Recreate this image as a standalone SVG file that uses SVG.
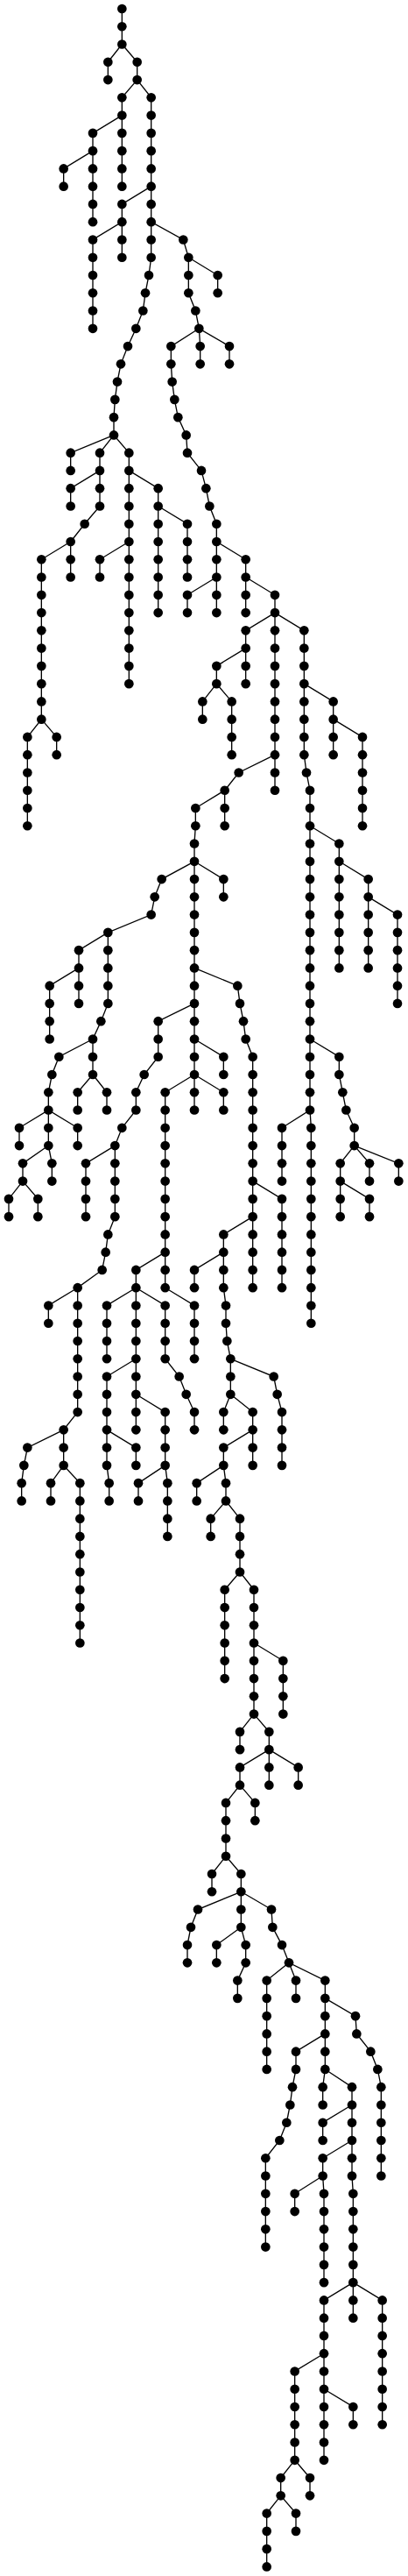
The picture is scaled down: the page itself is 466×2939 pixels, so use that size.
<svg xmlns="http://www.w3.org/2000/svg" width="466" height="2939" viewBox="0 0 466 2939">
<style>
.e path{fill:none;stroke:#000;stroke-width:4}
.n circle{fill:#000}
</style>
<rect width="466" height="2939" fill="#fff"/>
<g transform="scale(0.3333333)">
<g class="e" id="connectors">
<path d="M418 30V151.6L370 212.4V273.2"/>
<path d="M418 151.6L470 212.4V273.2L418 334V638"/>
<path d="M418 394.8L318 455.6V759.6"/>
<path d="M318 516.4L218 577.2V638"/>
<path d="M470 273.2L518 334V881.2L510 942L498 1002.8L490 1063.6L466 1124.4L438 1185.2L414 1246L402 1306.8L394 1367.6L390 1428.4V1489.2L442 1550V2340.4"/>
<path d="M518 638L418 698.8V881.2"/>
<path d="M418 759.6L318 820.4V1124.4"/>
<path d="M518 759.6L628 820.4L646 881.2V1002.8L670 1063.6L682 1124.4L686 1185.2V1246"/>
<path d="M646 881.2L746 942V1002.8"/>
<path d="M682 1124.4L586 1185.2V1246L590 1306.8L598 1367.6L610 1428.4L638 1489.2L642 1550L690 1610.8L706 1671.6L718 1732.4L742 1793.2V2097.2"/>
<path d="M682 1124.4L786 1185.2V1246"/>
<path d="M390 1489.2L242 1550V1610.8"/>
<path d="M390 1489.2L342 1550V1732.4L290 1793.2L242 1854V1975.6"/>
<path d="M342 1610.8L242 1671.6V1732.4"/>
<path d="M242 1854L142 1914.8V2462L94 2522.8V2826.8"/>
<path d="M142 2462L194 2522.8V2583.6"/>
<path d="M442 1610.8L542 1671.6V2097.2"/>
<path d="M542 1732.4L642 1793.2V1975.6"/>
<path d="M442 1854L342 1914.8V1975.6"/>
<path d="M742 1854L842 1914.8V2097.2"/>
<path d="M742 1975.6L642 2036.4V2097.2"/>
<path d="M842 1975.6L942 2036.4V2705.2"/>
<path d="M942 2097.2L842 2158V2340.4"/>
<path d="M842 2218.8L742 2279.6V2340.4L794 2401.2V2583.6"/>
<path d="M742 2340.4L694 2401.2V2462"/>
<path d="M942 2097.2L1042 2158V2583.6L1050 2644.4L1062 2705.2V3799.6L1066 3860.4V4529.2"/>
<path d="M942 2583.6L818 2644.4L770 2705.2V2826.8"/>
<path d="M770 2705.2L670 2766V2826.8L666 2887.6V3799.6"/>
<path d="M1042 2340.4L1142 2401.2V2583.6"/>
<path d="M1142 2462L1242 2522.8V2826.8"/>
<path d="M1062 2826.8L1162 2887.6V3313.2"/>
<path d="M1162 2948.4L1262 3009.2V3313.2"/>
<path d="M1262 3070L1362 3130.8V3434.8"/>
<path d="M666 2948.4L766 3009.2V3070"/>
<path d="M666 2948.4L554 3009.2L530 3070L518 3130.8L370 3191.6V3434.8L346 3495.6L318 3556.4V3678L266 3738.8V3799.6"/>
<path d="M318 3678L366 3738.8V3799.6"/>
<path d="M318 3556.4L202 3617.2L178 3678L166 3738.8V3921.2L178 3982V4042.8"/>
<path d="M166 3799.6L66 3860.4V3921.2"/>
<path d="M166 3799.6L266 3860.4V3921.2"/>
<path d="M166 3921.2L78 3982V4042.8L30 4103.6V4164.4"/>
<path d="M78 4042.8L130 4103.6V4164.4"/>
<path d="M370 3191.6L270 3252.4V3434.8"/>
<path d="M270 3313.2L170 3374V3556.4"/>
<path d="M666 3313.2L814 3374L822 3434.8L834 3495.6L842 3556.4L866 3617.2V4407.6"/>
<path d="M866 4042.8L966 4103.6V4407.6"/>
<path d="M866 4164.4L766 4225.2V4407.6L774 4468.4V4529.2L778 4590L790 4650.8V4772.4L866 4833.2V5015.6"/>
<path d="M766 4286L666 4346.8V4407.6"/>
<path d="M790 4650.8L938 4711.6L950 4772.4L966 4833.2V5015.6"/>
<path d="M790 4772.4L766 4833.2V4894"/>
<path d="M866 4894L766 4954.8V5015.6L774 5076.4V5137.2L822 5198V5380.4L870 5441.2V5866.8L922 5927.6V6110"/>
<path d="M766 5015.6L674 5076.4V5137.2"/>
<path d="M774 5137.2L722 5198V5258.8"/>
<path d="M822 5380.4L770 5441.2V5745.2"/>
<path d="M870 5623.6L970 5684.4V5866.8"/>
<path d="M870 5866.8L822 5927.6V5988.4"/>
<path d="M922 5988.4L1022 6049.2V6110"/>
<path d="M922 5988.4L822 6049.2V6110L774 6170.8V6353.2L826 6414V6596.4L842 6657.2V6718L814 6778.8V6839.6"/>
<path d="M822 6110L874 6170.8V6231.6"/>
<path d="M774 6353.2L726 6414V6474.8"/>
<path d="M826 6474.8L678 6535.6L654 6596.4L642 6657.2V6718"/>
<path d="M826 6596.4L742 6657.2V6718"/>
<path d="M826 6474.8L930 6535.6L934 6596.4L966 6657.2L990 6718L1114 6778.8V7082.8L1206 7143.6V7447.6L1210 7508.4V7934"/>
<path d="M990 6718L914 6778.8V7082.8"/>
<path d="M990 6718L1014 6778.8V6839.6"/>
<path d="M1114 6839.6L1218 6900.4L1222 6961.2L1270 7022L1294 7082.8L1306 7143.6V7447.6"/>
<path d="M1114 6961.2L1014 7022V7082.8L1002 7143.6L994 7204.4L982 7265.2L958 7326L910 7386.8V7690.8"/>
<path d="M1114 7082.8L1106 7143.6V7204.4"/>
<path d="M1206 7204.4L1106 7265.2V7326"/>
<path d="M1206 7326L1106 7386.8V7447.6L1110 7508.4V7812.4"/>
<path d="M1106 7447.6L1010 7508.4V7569.2"/>
<path d="M1210 7812.4L1110 7873.2V8420.4"/>
<path d="M1210 7812.4L1310 7873.2V8298.8"/>
<path d="M1110 8055.6L1010 8116.4V8420.4L962 8481.2V8542L914 8602.8V8785.2"/>
<path d="M1010 8420.4L1062 8481.2V8542"/>
<path d="M962 8542L1014 8602.8V8663.6"/>
<path d="M1110 8177.2L1210 8238V8298.8"/>
<path d="M666 3434.8L542 3495.6V3617.2L494 3678L466 3738.8V3799.6L418 3860.4L394 3921.2V4164.4L370 4225.2L362 4286L350 4346.8L266 4407.6V4833.2L218 4894V5015.6L274 5076.4V5623.6"/>
<path d="M394 3921.2L294 3982V4164.4"/>
<path d="M266 4407.6L166 4468.4V4529.2"/>
<path d="M218 4894L94 4954.8L82 5015.6L74 5076.4V5137.2"/>
<path d="M218 5015.6L174 5076.4V5137.2"/>
<path d="M666 3556.4L766 3617.2V3678"/>
<path d="M666 3678L566 3738.8V4407.6L666 4468.4V4650.8"/>
<path d="M666 3678L766 3738.8V3799.6"/>
<path d="M566 4286L466 4346.8V4894"/>
<path d="M466 4407.6L366 4468.4V4650.8"/>
<path d="M466 4407.6L566 4468.4V4650.8L614 4711.6L638 4772.4L666 4833.2V4894"/>
<path d="M466 4650.8L366 4711.6V5015.6L374 5076.4V5137.2"/>
<path d="M366 4894L466 4954.8V5015.6"/>
<path d="M466 4772.4L566 4833.2V5015.6L574 5076.4V5258.8"/>
<path d="M566 5015.6L474 5076.4V5137.2"/>
<path d="M1062 3799.6L966 3860.4V4042.8"/>
<path d="M1062 3556.4L1162 3617.2V3678L1174 3738.8L1186 3799.6L1214 3860.4V3921.2L1166 3982V4164.4"/>
<path d="M1214 3921.2L1266 3982V4042.8"/>
<path d="M1214 3921.2L1366 3982V4042.8"/>
<path d="M1166 4042.8L1266 4103.6V4164.4"/>
</g>
<g class="n" id="nodes">
<g transform="translate(0,30)"><g id="n0-418"><circle cx="418" r="16"/></g></g>
<g transform="translate(0,90.8)"><g id="n1-418"><circle cx="418" r="16"/></g></g>
<g transform="translate(0,151.6)"><g id="n2-418"><circle cx="418" r="16"/></g></g>
<g transform="translate(0,212.4)"><g id="n3-370"><circle cx="370" r="16"/></g><g id="n3-470"><circle cx="470" r="16"/></g></g>
<g transform="translate(0,273.2)"><g id="n4-370"><circle cx="370" r="16"/></g><g id="n4-470"><circle cx="470" r="16"/></g></g>
<g transform="translate(0,334)"><g id="n5-418"><circle cx="418" r="16"/></g><g id="n5-518"><circle cx="518" r="16"/></g></g>
<g transform="translate(0,394.8)"><g id="n6-418"><circle cx="418" r="16"/></g><g id="n6-518"><circle cx="518" r="16"/></g></g>
<g transform="translate(0,455.6)"><g id="n7-318"><circle cx="318" r="16"/></g><g id="n7-418"><circle cx="418" r="16"/></g><g id="n7-518"><circle cx="518" r="16"/></g></g>
<g transform="translate(0,516.4)"><g id="n8-318"><circle cx="318" r="16"/></g><g id="n8-418"><circle cx="418" r="16"/></g><g id="n8-518"><circle cx="518" r="16"/></g></g>
<g transform="translate(0,577.2)"><g id="n9-218"><circle cx="218" r="16"/></g><g id="n9-318"><circle cx="318" r="16"/></g><g id="n9-418"><circle cx="418" r="16"/></g><g id="n9-518"><circle cx="518" r="16"/></g></g>
<g transform="translate(0,638)"><g id="n10-218"><circle cx="218" r="16"/></g><g id="n10-318"><circle cx="318" r="16"/></g><g id="n10-418"><circle cx="418" r="16"/></g><g id="n10-518"><circle cx="518" r="16"/></g></g>
<g transform="translate(0,698.8)"><g id="n11-318"><circle cx="318" r="16"/></g><g id="n11-418"><circle cx="418" r="16"/></g><g id="n11-518"><circle cx="518" r="16"/></g></g>
<g transform="translate(0,759.6)"><g id="n12-318"><circle cx="318" r="16"/></g><g id="n12-418"><circle cx="418" r="16"/></g><g id="n12-518"><circle cx="518" r="16"/></g></g>
<g transform="translate(0,820.4)"><g id="n13-318"><circle cx="318" r="16"/></g><g id="n13-418"><circle cx="418" r="16"/></g><g id="n13-518"><circle cx="518" r="16"/></g><g id="n13-628"><circle cx="628" r="16"/></g></g>
<g transform="translate(0,881.2)"><g id="n14-318"><circle cx="318" r="16"/></g><g id="n14-418"><circle cx="418" r="16"/></g><g id="n14-518"><circle cx="518" r="16"/></g><g id="n14-646"><circle cx="646" r="16"/></g></g>
<g transform="translate(0,942)"><g id="n15-318"><circle cx="318" r="16"/></g><g id="n15-510"><circle cx="510" r="16"/></g><g id="n15-646"><circle cx="646" r="16"/></g><g id="n15-746"><circle cx="746" r="16"/></g></g>
<g transform="translate(0,1002.8)"><g id="n16-318"><circle cx="318" r="16"/></g><g id="n16-498"><circle cx="498" r="16"/></g><g id="n16-646"><circle cx="646" r="16"/></g><g id="n16-746"><circle cx="746" r="16"/></g></g>
<g transform="translate(0,1063.6)"><g id="n17-318"><circle cx="318" r="16"/></g><g id="n17-490"><circle cx="490" r="16"/></g><g id="n17-670"><circle cx="670" r="16"/></g></g>
<g transform="translate(0,1124.4)"><g id="n18-318"><circle cx="318" r="16"/></g><g id="n18-466"><circle cx="466" r="16"/></g><g id="n18-682"><circle cx="682" r="16"/></g></g>
<g transform="translate(0,1185.2)"><g id="n19-438"><circle cx="438" r="16"/></g><g id="n19-586"><circle cx="586" r="16"/></g><g id="n19-686"><circle cx="686" r="16"/></g><g id="n19-786"><circle cx="786" r="16"/></g></g>
<g transform="translate(0,1246)"><g id="n20-414"><circle cx="414" r="16"/></g><g id="n20-586"><circle cx="586" r="16"/></g><g id="n20-686"><circle cx="686" r="16"/></g><g id="n20-786"><circle cx="786" r="16"/></g></g>
<g transform="translate(0,1306.8)"><g id="n21-402"><circle cx="402" r="16"/></g><g id="n21-590"><circle cx="590" r="16"/></g></g>
<g transform="translate(0,1367.6)"><g id="n22-394"><circle cx="394" r="16"/></g><g id="n22-598"><circle cx="598" r="16"/></g></g>
<g transform="translate(0,1428.4)"><g id="n23-390"><circle cx="390" r="16"/></g><g id="n23-610"><circle cx="610" r="16"/></g></g>
<g transform="translate(0,1489.2)"><g id="n24-390"><circle cx="390" r="16"/></g><g id="n24-638"><circle cx="638" r="16"/></g></g>
<g transform="translate(0,1550)"><g id="n25-242"><circle cx="242" r="16"/></g><g id="n25-342"><circle cx="342" r="16"/></g><g id="n25-442"><circle cx="442" r="16"/></g><g id="n25-642"><circle cx="642" r="16"/></g></g>
<g transform="translate(0,1610.8)"><g id="n26-242"><circle cx="242" r="16"/></g><g id="n26-342"><circle cx="342" r="16"/></g><g id="n26-442"><circle cx="442" r="16"/></g><g id="n26-690"><circle cx="690" r="16"/></g></g>
<g transform="translate(0,1671.6)"><g id="n27-242"><circle cx="242" r="16"/></g><g id="n27-342"><circle cx="342" r="16"/></g><g id="n27-442"><circle cx="442" r="16"/></g><g id="n27-542"><circle cx="542" r="16"/></g><g id="n27-706"><circle cx="706" r="16"/></g></g>
<g transform="translate(0,1732.4)"><g id="n28-242"><circle cx="242" r="16"/></g><g id="n28-342"><circle cx="342" r="16"/></g><g id="n28-442"><circle cx="442" r="16"/></g><g id="n28-542"><circle cx="542" r="16"/></g><g id="n28-718"><circle cx="718" r="16"/></g></g>
<g transform="translate(0,1793.2)"><g id="n29-290"><circle cx="290" r="16"/></g><g id="n29-442"><circle cx="442" r="16"/></g><g id="n29-542"><circle cx="542" r="16"/></g><g id="n29-642"><circle cx="642" r="16"/></g><g id="n29-742"><circle cx="742" r="16"/></g></g>
<g transform="translate(0,1854)"><g id="n30-242"><circle cx="242" r="16"/></g><g id="n30-442"><circle cx="442" r="16"/></g><g id="n30-542"><circle cx="542" r="16"/></g><g id="n30-642"><circle cx="642" r="16"/></g><g id="n30-742"><circle cx="742" r="16"/></g></g>
<g transform="translate(0,1914.8)"><g id="n31-142"><circle cx="142" r="16"/></g><g id="n31-242"><circle cx="242" r="16"/></g><g id="n31-342"><circle cx="342" r="16"/></g><g id="n31-442"><circle cx="442" r="16"/></g><g id="n31-542"><circle cx="542" r="16"/></g><g id="n31-642"><circle cx="642" r="16"/></g><g id="n31-742"><circle cx="742" r="16"/></g><g id="n31-842"><circle cx="842" r="16"/></g></g>
<g transform="translate(0,1975.6)"><g id="n32-142"><circle cx="142" r="16"/></g><g id="n32-242"><circle cx="242" r="16"/></g><g id="n32-342"><circle cx="342" r="16"/></g><g id="n32-442"><circle cx="442" r="16"/></g><g id="n32-542"><circle cx="542" r="16"/></g><g id="n32-642"><circle cx="642" r="16"/></g><g id="n32-742"><circle cx="742" r="16"/></g><g id="n32-842"><circle cx="842" r="16"/></g></g>
<g transform="translate(0,2036.4)"><g id="n33-142"><circle cx="142" r="16"/></g><g id="n33-442"><circle cx="442" r="16"/></g><g id="n33-542"><circle cx="542" r="16"/></g><g id="n33-642"><circle cx="642" r="16"/></g><g id="n33-742"><circle cx="742" r="16"/></g><g id="n33-842"><circle cx="842" r="16"/></g><g id="n33-942"><circle cx="942" r="16"/></g></g>
<g transform="translate(0,2097.2)"><g id="n34-142"><circle cx="142" r="16"/></g><g id="n34-442"><circle cx="442" r="16"/></g><g id="n34-542"><circle cx="542" r="16"/></g><g id="n34-642"><circle cx="642" r="16"/></g><g id="n34-742"><circle cx="742" r="16"/></g><g id="n34-842"><circle cx="842" r="16"/></g><g id="n34-942"><circle cx="942" r="16"/></g></g>
<g transform="translate(0,2158)"><g id="n35-142"><circle cx="142" r="16"/></g><g id="n35-442"><circle cx="442" r="16"/></g><g id="n35-842"><circle cx="842" r="16"/></g><g id="n35-942"><circle cx="942" r="16"/></g><g id="n35-1042"><circle cx="1042" r="16"/></g></g>
<g transform="translate(0,2218.8)"><g id="n36-142"><circle cx="142" r="16"/></g><g id="n36-442"><circle cx="442" r="16"/></g><g id="n36-842"><circle cx="842" r="16"/></g><g id="n36-942"><circle cx="942" r="16"/></g><g id="n36-1042"><circle cx="1042" r="16"/></g></g>
<g transform="translate(0,2279.6)"><g id="n37-142"><circle cx="142" r="16"/></g><g id="n37-442"><circle cx="442" r="16"/></g><g id="n37-742"><circle cx="742" r="16"/></g><g id="n37-842"><circle cx="842" r="16"/></g><g id="n37-942"><circle cx="942" r="16"/></g><g id="n37-1042"><circle cx="1042" r="16"/></g></g>
<g transform="translate(0,2340.4)"><g id="n38-142"><circle cx="142" r="16"/></g><g id="n38-442"><circle cx="442" r="16"/></g><g id="n38-742"><circle cx="742" r="16"/></g><g id="n38-842"><circle cx="842" r="16"/></g><g id="n38-942"><circle cx="942" r="16"/></g><g id="n38-1042"><circle cx="1042" r="16"/></g></g>
<g transform="translate(0,2401.2)"><g id="n39-142"><circle cx="142" r="16"/></g><g id="n39-694"><circle cx="694" r="16"/></g><g id="n39-794"><circle cx="794" r="16"/></g><g id="n39-942"><circle cx="942" r="16"/></g><g id="n39-1042"><circle cx="1042" r="16"/></g><g id="n39-1142"><circle cx="1142" r="16"/></g></g>
<g transform="translate(0,2462)"><g id="n40-142"><circle cx="142" r="16"/></g><g id="n40-694"><circle cx="694" r="16"/></g><g id="n40-794"><circle cx="794" r="16"/></g><g id="n40-942"><circle cx="942" r="16"/></g><g id="n40-1042"><circle cx="1042" r="16"/></g><g id="n40-1142"><circle cx="1142" r="16"/></g></g>
<g transform="translate(0,2522.8)"><g id="n41-94"><circle cx="94" r="16"/></g><g id="n41-194"><circle cx="194" r="16"/></g><g id="n41-794"><circle cx="794" r="16"/></g><g id="n41-942"><circle cx="942" r="16"/></g><g id="n41-1042"><circle cx="1042" r="16"/></g><g id="n41-1142"><circle cx="1142" r="16"/></g><g id="n41-1242"><circle cx="1242" r="16"/></g></g>
<g transform="translate(0,2583.6)"><g id="n42-94"><circle cx="94" r="16"/></g><g id="n42-194"><circle cx="194" r="16"/></g><g id="n42-794"><circle cx="794" r="16"/></g><g id="n42-942"><circle cx="942" r="16"/></g><g id="n42-1042"><circle cx="1042" r="16"/></g><g id="n42-1142"><circle cx="1142" r="16"/></g><g id="n42-1242"><circle cx="1242" r="16"/></g></g>
<g transform="translate(0,2644.4)"><g id="n43-94"><circle cx="94" r="16"/></g><g id="n43-818"><circle cx="818" r="16"/></g><g id="n43-942"><circle cx="942" r="16"/></g><g id="n43-1050"><circle cx="1050" r="16"/></g><g id="n43-1242"><circle cx="1242" r="16"/></g></g>
<g transform="translate(0,2705.2)"><g id="n44-94"><circle cx="94" r="16"/></g><g id="n44-770"><circle cx="770" r="16"/></g><g id="n44-942"><circle cx="942" r="16"/></g><g id="n44-1062"><circle cx="1062" r="16"/></g><g id="n44-1242"><circle cx="1242" r="16"/></g></g>
<g transform="translate(0,2766)"><g id="n45-94"><circle cx="94" r="16"/></g><g id="n45-670"><circle cx="670" r="16"/></g><g id="n45-770"><circle cx="770" r="16"/></g><g id="n45-1062"><circle cx="1062" r="16"/></g><g id="n45-1242"><circle cx="1242" r="16"/></g></g>
<g transform="translate(0,2826.8)"><g id="n46-94"><circle cx="94" r="16"/></g><g id="n46-670"><circle cx="670" r="16"/></g><g id="n46-770"><circle cx="770" r="16"/></g><g id="n46-1062"><circle cx="1062" r="16"/></g><g id="n46-1242"><circle cx="1242" r="16"/></g></g>
<g transform="translate(0,2887.6)"><g id="n47-666"><circle cx="666" r="16"/></g><g id="n47-1062"><circle cx="1062" r="16"/></g><g id="n47-1162"><circle cx="1162" r="16"/></g></g>
<g transform="translate(0,2948.4)"><g id="n48-666"><circle cx="666" r="16"/></g><g id="n48-1062"><circle cx="1062" r="16"/></g><g id="n48-1162"><circle cx="1162" r="16"/></g></g>
<g transform="translate(0,3009.2)"><g id="n49-554"><circle cx="554" r="16"/></g><g id="n49-666"><circle cx="666" r="16"/></g><g id="n49-766"><circle cx="766" r="16"/></g><g id="n49-1062"><circle cx="1062" r="16"/></g><g id="n49-1162"><circle cx="1162" r="16"/></g><g id="n49-1262"><circle cx="1262" r="16"/></g></g>
<g transform="translate(0,3070)"><g id="n50-530"><circle cx="530" r="16"/></g><g id="n50-666"><circle cx="666" r="16"/></g><g id="n50-766"><circle cx="766" r="16"/></g><g id="n50-1062"><circle cx="1062" r="16"/></g><g id="n50-1162"><circle cx="1162" r="16"/></g><g id="n50-1262"><circle cx="1262" r="16"/></g></g>
<g transform="translate(0,3130.8)"><g id="n51-518"><circle cx="518" r="16"/></g><g id="n51-666"><circle cx="666" r="16"/></g><g id="n51-1062"><circle cx="1062" r="16"/></g><g id="n51-1162"><circle cx="1162" r="16"/></g><g id="n51-1262"><circle cx="1262" r="16"/></g><g id="n51-1362"><circle cx="1362" r="16"/></g></g>
<g transform="translate(0,3191.6)"><g id="n52-370"><circle cx="370" r="16"/></g><g id="n52-666"><circle cx="666" r="16"/></g><g id="n52-1062"><circle cx="1062" r="16"/></g><g id="n52-1162"><circle cx="1162" r="16"/></g><g id="n52-1262"><circle cx="1262" r="16"/></g><g id="n52-1362"><circle cx="1362" r="16"/></g></g>
<g transform="translate(0,3252.4)"><g id="n53-270"><circle cx="270" r="16"/></g><g id="n53-370"><circle cx="370" r="16"/></g><g id="n53-666"><circle cx="666" r="16"/></g><g id="n53-1062"><circle cx="1062" r="16"/></g><g id="n53-1162"><circle cx="1162" r="16"/></g><g id="n53-1262"><circle cx="1262" r="16"/></g><g id="n53-1362"><circle cx="1362" r="16"/></g></g>
<g transform="translate(0,3313.2)"><g id="n54-270"><circle cx="270" r="16"/></g><g id="n54-370"><circle cx="370" r="16"/></g><g id="n54-666"><circle cx="666" r="16"/></g><g id="n54-1062"><circle cx="1062" r="16"/></g><g id="n54-1162"><circle cx="1162" r="16"/></g><g id="n54-1262"><circle cx="1262" r="16"/></g><g id="n54-1362"><circle cx="1362" r="16"/></g></g>
<g transform="translate(0,3374)"><g id="n55-170"><circle cx="170" r="16"/></g><g id="n55-270"><circle cx="270" r="16"/></g><g id="n55-370"><circle cx="370" r="16"/></g><g id="n55-666"><circle cx="666" r="16"/></g><g id="n55-814"><circle cx="814" r="16"/></g><g id="n55-1062"><circle cx="1062" r="16"/></g><g id="n55-1362"><circle cx="1362" r="16"/></g></g>
<g transform="translate(0,3434.8)"><g id="n56-170"><circle cx="170" r="16"/></g><g id="n56-270"><circle cx="270" r="16"/></g><g id="n56-370"><circle cx="370" r="16"/></g><g id="n56-666"><circle cx="666" r="16"/></g><g id="n56-822"><circle cx="822" r="16"/></g><g id="n56-1062"><circle cx="1062" r="16"/></g><g id="n56-1362"><circle cx="1362" r="16"/></g></g>
<g transform="translate(0,3495.6)"><g id="n57-170"><circle cx="170" r="16"/></g><g id="n57-346"><circle cx="346" r="16"/></g><g id="n57-542"><circle cx="542" r="16"/></g><g id="n57-666"><circle cx="666" r="16"/></g><g id="n57-834"><circle cx="834" r="16"/></g><g id="n57-1062"><circle cx="1062" r="16"/></g></g>
<g transform="translate(0,3556.4)"><g id="n58-170"><circle cx="170" r="16"/></g><g id="n58-318"><circle cx="318" r="16"/></g><g id="n58-542"><circle cx="542" r="16"/></g><g id="n58-666"><circle cx="666" r="16"/></g><g id="n58-842"><circle cx="842" r="16"/></g><g id="n58-1062"><circle cx="1062" r="16"/></g></g>
<g transform="translate(0,3617.2)"><g id="n59-202"><circle cx="202" r="16"/></g><g id="n59-318"><circle cx="318" r="16"/></g><g id="n59-542"><circle cx="542" r="16"/></g><g id="n59-666"><circle cx="666" r="16"/></g><g id="n59-766"><circle cx="766" r="16"/></g><g id="n59-866"><circle cx="866" r="16"/></g><g id="n59-1062"><circle cx="1062" r="16"/></g><g id="n59-1162"><circle cx="1162" r="16"/></g></g>
<g transform="translate(0,3678)"><g id="n60-178"><circle cx="178" r="16"/></g><g id="n60-318"><circle cx="318" r="16"/></g><g id="n60-494"><circle cx="494" r="16"/></g><g id="n60-666"><circle cx="666" r="16"/></g><g id="n60-766"><circle cx="766" r="16"/></g><g id="n60-866"><circle cx="866" r="16"/></g><g id="n60-1062"><circle cx="1062" r="16"/></g><g id="n60-1162"><circle cx="1162" r="16"/></g></g>
<g transform="translate(0,3738.8)"><g id="n61-166"><circle cx="166" r="16"/></g><g id="n61-266"><circle cx="266" r="16"/></g><g id="n61-366"><circle cx="366" r="16"/></g><g id="n61-466"><circle cx="466" r="16"/></g><g id="n61-566"><circle cx="566" r="16"/></g><g id="n61-666"><circle cx="666" r="16"/></g><g id="n61-766"><circle cx="766" r="16"/></g><g id="n61-866"><circle cx="866" r="16"/></g><g id="n61-1062"><circle cx="1062" r="16"/></g><g id="n61-1174"><circle cx="1174" r="16"/></g></g>
<g transform="translate(0,3799.6)"><g id="n62-166"><circle cx="166" r="16"/></g><g id="n62-266"><circle cx="266" r="16"/></g><g id="n62-366"><circle cx="366" r="16"/></g><g id="n62-466"><circle cx="466" r="16"/></g><g id="n62-566"><circle cx="566" r="16"/></g><g id="n62-666"><circle cx="666" r="16"/></g><g id="n62-766"><circle cx="766" r="16"/></g><g id="n62-866"><circle cx="866" r="16"/></g><g id="n62-1062"><circle cx="1062" r="16"/></g><g id="n62-1186"><circle cx="1186" r="16"/></g></g>
<g transform="translate(0,3860.4)"><g id="n63-66"><circle cx="66" r="16"/></g><g id="n63-166"><circle cx="166" r="16"/></g><g id="n63-266"><circle cx="266" r="16"/></g><g id="n63-418"><circle cx="418" r="16"/></g><g id="n63-566"><circle cx="566" r="16"/></g><g id="n63-866"><circle cx="866" r="16"/></g><g id="n63-966"><circle cx="966" r="16"/></g><g id="n63-1066"><circle cx="1066" r="16"/></g><g id="n63-1214"><circle cx="1214" r="16"/></g></g>
<g transform="translate(0,3921.2)"><g id="n64-66"><circle cx="66" r="16"/></g><g id="n64-166"><circle cx="166" r="16"/></g><g id="n64-266"><circle cx="266" r="16"/></g><g id="n64-394"><circle cx="394" r="16"/></g><g id="n64-566"><circle cx="566" r="16"/></g><g id="n64-866"><circle cx="866" r="16"/></g><g id="n64-966"><circle cx="966" r="16"/></g><g id="n64-1066"><circle cx="1066" r="16"/></g><g id="n64-1214"><circle cx="1214" r="16"/></g></g>
<g transform="translate(0,3982)"><g id="n65-78"><circle cx="78" r="16"/></g><g id="n65-178"><circle cx="178" r="16"/></g><g id="n65-294"><circle cx="294" r="16"/></g><g id="n65-394"><circle cx="394" r="16"/></g><g id="n65-566"><circle cx="566" r="16"/></g><g id="n65-866"><circle cx="866" r="16"/></g><g id="n65-966"><circle cx="966" r="16"/></g><g id="n65-1066"><circle cx="1066" r="16"/></g><g id="n65-1166"><circle cx="1166" r="16"/></g><g id="n65-1266"><circle cx="1266" r="16"/></g><g id="n65-1366"><circle cx="1366" r="16"/></g></g>
<g transform="translate(0,4042.8)"><g id="n66-78"><circle cx="78" r="16"/></g><g id="n66-178"><circle cx="178" r="16"/></g><g id="n66-294"><circle cx="294" r="16"/></g><g id="n66-394"><circle cx="394" r="16"/></g><g id="n66-566"><circle cx="566" r="16"/></g><g id="n66-866"><circle cx="866" r="16"/></g><g id="n66-966"><circle cx="966" r="16"/></g><g id="n66-1066"><circle cx="1066" r="16"/></g><g id="n66-1166"><circle cx="1166" r="16"/></g><g id="n66-1266"><circle cx="1266" r="16"/></g><g id="n66-1366"><circle cx="1366" r="16"/></g></g>
<g transform="translate(0,4103.6)"><g id="n67-30"><circle cx="30" r="16"/></g><g id="n67-130"><circle cx="130" r="16"/></g><g id="n67-294"><circle cx="294" r="16"/></g><g id="n67-394"><circle cx="394" r="16"/></g><g id="n67-566"><circle cx="566" r="16"/></g><g id="n67-866"><circle cx="866" r="16"/></g><g id="n67-966"><circle cx="966" r="16"/></g><g id="n67-1066"><circle cx="1066" r="16"/></g><g id="n67-1166"><circle cx="1166" r="16"/></g><g id="n67-1266"><circle cx="1266" r="16"/></g></g>
<g transform="translate(0,4164.4)"><g id="n68-30"><circle cx="30" r="16"/></g><g id="n68-130"><circle cx="130" r="16"/></g><g id="n68-294"><circle cx="294" r="16"/></g><g id="n68-394"><circle cx="394" r="16"/></g><g id="n68-566"><circle cx="566" r="16"/></g><g id="n68-866"><circle cx="866" r="16"/></g><g id="n68-966"><circle cx="966" r="16"/></g><g id="n68-1066"><circle cx="1066" r="16"/></g><g id="n68-1166"><circle cx="1166" r="16"/></g><g id="n68-1266"><circle cx="1266" r="16"/></g></g>
<g transform="translate(0,4225.2)"><g id="n69-370"><circle cx="370" r="16"/></g><g id="n69-566"><circle cx="566" r="16"/></g><g id="n69-766"><circle cx="766" r="16"/></g><g id="n69-866"><circle cx="866" r="16"/></g><g id="n69-966"><circle cx="966" r="16"/></g><g id="n69-1066"><circle cx="1066" r="16"/></g></g>
<g transform="translate(0,4286)"><g id="n70-362"><circle cx="362" r="16"/></g><g id="n70-566"><circle cx="566" r="16"/></g><g id="n70-766"><circle cx="766" r="16"/></g><g id="n70-866"><circle cx="866" r="16"/></g><g id="n70-966"><circle cx="966" r="16"/></g><g id="n70-1066"><circle cx="1066" r="16"/></g></g>
<g transform="translate(0,4346.8)"><g id="n71-350"><circle cx="350" r="16"/></g><g id="n71-466"><circle cx="466" r="16"/></g><g id="n71-566"><circle cx="566" r="16"/></g><g id="n71-666"><circle cx="666" r="16"/></g><g id="n71-766"><circle cx="766" r="16"/></g><g id="n71-866"><circle cx="866" r="16"/></g><g id="n71-966"><circle cx="966" r="16"/></g><g id="n71-1066"><circle cx="1066" r="16"/></g></g>
<g transform="translate(0,4407.6)"><g id="n72-266"><circle cx="266" r="16"/></g><g id="n72-466"><circle cx="466" r="16"/></g><g id="n72-566"><circle cx="566" r="16"/></g><g id="n72-666"><circle cx="666" r="16"/></g><g id="n72-766"><circle cx="766" r="16"/></g><g id="n72-866"><circle cx="866" r="16"/></g><g id="n72-966"><circle cx="966" r="16"/></g><g id="n72-1066"><circle cx="1066" r="16"/></g></g>
<g transform="translate(0,4468.4)"><g id="n73-166"><circle cx="166" r="16"/></g><g id="n73-266"><circle cx="266" r="16"/></g><g id="n73-366"><circle cx="366" r="16"/></g><g id="n73-466"><circle cx="466" r="16"/></g><g id="n73-566"><circle cx="566" r="16"/></g><g id="n73-666"><circle cx="666" r="16"/></g><g id="n73-774"><circle cx="774" r="16"/></g><g id="n73-1066"><circle cx="1066" r="16"/></g></g>
<g transform="translate(0,4529.2)"><g id="n74-166"><circle cx="166" r="16"/></g><g id="n74-266"><circle cx="266" r="16"/></g><g id="n74-366"><circle cx="366" r="16"/></g><g id="n74-466"><circle cx="466" r="16"/></g><g id="n74-566"><circle cx="566" r="16"/></g><g id="n74-666"><circle cx="666" r="16"/></g><g id="n74-774"><circle cx="774" r="16"/></g><g id="n74-1066"><circle cx="1066" r="16"/></g></g>
<g transform="translate(0,4590)"><g id="n75-266"><circle cx="266" r="16"/></g><g id="n75-366"><circle cx="366" r="16"/></g><g id="n75-466"><circle cx="466" r="16"/></g><g id="n75-566"><circle cx="566" r="16"/></g><g id="n75-666"><circle cx="666" r="16"/></g><g id="n75-778"><circle cx="778" r="16"/></g></g>
<g transform="translate(0,4650.8)"><g id="n76-266"><circle cx="266" r="16"/></g><g id="n76-366"><circle cx="366" r="16"/></g><g id="n76-466"><circle cx="466" r="16"/></g><g id="n76-566"><circle cx="566" r="16"/></g><g id="n76-666"><circle cx="666" r="16"/></g><g id="n76-790"><circle cx="790" r="16"/></g></g>
<g transform="translate(0,4711.6)"><g id="n77-266"><circle cx="266" r="16"/></g><g id="n77-366"><circle cx="366" r="16"/></g><g id="n77-466"><circle cx="466" r="16"/></g><g id="n77-614"><circle cx="614" r="16"/></g><g id="n77-790"><circle cx="790" r="16"/></g><g id="n77-938"><circle cx="938" r="16"/></g></g>
<g transform="translate(0,4772.4)"><g id="n78-266"><circle cx="266" r="16"/></g><g id="n78-366"><circle cx="366" r="16"/></g><g id="n78-466"><circle cx="466" r="16"/></g><g id="n78-638"><circle cx="638" r="16"/></g><g id="n78-790"><circle cx="790" r="16"/></g><g id="n78-950"><circle cx="950" r="16"/></g></g>
<g transform="translate(0,4833.2)"><g id="n79-266"><circle cx="266" r="16"/></g><g id="n79-366"><circle cx="366" r="16"/></g><g id="n79-466"><circle cx="466" r="16"/></g><g id="n79-566"><circle cx="566" r="16"/></g><g id="n79-666"><circle cx="666" r="16"/></g><g id="n79-766"><circle cx="766" r="16"/></g><g id="n79-866"><circle cx="866" r="16"/></g><g id="n79-966"><circle cx="966" r="16"/></g></g>
<g transform="translate(0,4894)"><g id="n80-218"><circle cx="218" r="16"/></g><g id="n80-366"><circle cx="366" r="16"/></g><g id="n80-466"><circle cx="466" r="16"/></g><g id="n80-566"><circle cx="566" r="16"/></g><g id="n80-666"><circle cx="666" r="16"/></g><g id="n80-766"><circle cx="766" r="16"/></g><g id="n80-866"><circle cx="866" r="16"/></g><g id="n80-966"><circle cx="966" r="16"/></g></g>
<g transform="translate(0,4954.8)"><g id="n81-94"><circle cx="94" r="16"/></g><g id="n81-218"><circle cx="218" r="16"/></g><g id="n81-366"><circle cx="366" r="16"/></g><g id="n81-466"><circle cx="466" r="16"/></g><g id="n81-566"><circle cx="566" r="16"/></g><g id="n81-766"><circle cx="766" r="16"/></g><g id="n81-866"><circle cx="866" r="16"/></g><g id="n81-966"><circle cx="966" r="16"/></g></g>
<g transform="translate(0,5015.6)"><g id="n82-82"><circle cx="82" r="16"/></g><g id="n82-218"><circle cx="218" r="16"/></g><g id="n82-366"><circle cx="366" r="16"/></g><g id="n82-466"><circle cx="466" r="16"/></g><g id="n82-566"><circle cx="566" r="16"/></g><g id="n82-766"><circle cx="766" r="16"/></g><g id="n82-866"><circle cx="866" r="16"/></g><g id="n82-966"><circle cx="966" r="16"/></g></g>
<g transform="translate(0,5076.4)"><g id="n83-74"><circle cx="74" r="16"/></g><g id="n83-174"><circle cx="174" r="16"/></g><g id="n83-274"><circle cx="274" r="16"/></g><g id="n83-374"><circle cx="374" r="16"/></g><g id="n83-474"><circle cx="474" r="16"/></g><g id="n83-574"><circle cx="574" r="16"/></g><g id="n83-674"><circle cx="674" r="16"/></g><g id="n83-774"><circle cx="774" r="16"/></g></g>
<g transform="translate(0,5137.2)"><g id="n84-74"><circle cx="74" r="16"/></g><g id="n84-174"><circle cx="174" r="16"/></g><g id="n84-274"><circle cx="274" r="16"/></g><g id="n84-374"><circle cx="374" r="16"/></g><g id="n84-474"><circle cx="474" r="16"/></g><g id="n84-574"><circle cx="574" r="16"/></g><g id="n84-674"><circle cx="674" r="16"/></g><g id="n84-774"><circle cx="774" r="16"/></g></g>
<g transform="translate(0,5198)"><g id="n85-274"><circle cx="274" r="16"/></g><g id="n85-574"><circle cx="574" r="16"/></g><g id="n85-722"><circle cx="722" r="16"/></g><g id="n85-822"><circle cx="822" r="16"/></g></g>
<g transform="translate(0,5258.8)"><g id="n86-274"><circle cx="274" r="16"/></g><g id="n86-574"><circle cx="574" r="16"/></g><g id="n86-722"><circle cx="722" r="16"/></g><g id="n86-822"><circle cx="822" r="16"/></g></g>
<g transform="translate(0,5319.6)"><g id="n87-274"><circle cx="274" r="16"/></g><g id="n87-822"><circle cx="822" r="16"/></g></g>
<g transform="translate(0,5380.4)"><g id="n88-274"><circle cx="274" r="16"/></g><g id="n88-822"><circle cx="822" r="16"/></g></g>
<g transform="translate(0,5441.2)"><g id="n89-274"><circle cx="274" r="16"/></g><g id="n89-770"><circle cx="770" r="16"/></g><g id="n89-870"><circle cx="870" r="16"/></g></g>
<g transform="translate(0,5502)"><g id="n90-274"><circle cx="274" r="16"/></g><g id="n90-770"><circle cx="770" r="16"/></g><g id="n90-870"><circle cx="870" r="16"/></g></g>
<g transform="translate(0,5562.8)"><g id="n91-274"><circle cx="274" r="16"/></g><g id="n91-770"><circle cx="770" r="16"/></g><g id="n91-870"><circle cx="870" r="16"/></g></g>
<g transform="translate(0,5623.6)"><g id="n92-274"><circle cx="274" r="16"/></g><g id="n92-770"><circle cx="770" r="16"/></g><g id="n92-870"><circle cx="870" r="16"/></g></g>
<g transform="translate(0,5684.4)"><g id="n93-770"><circle cx="770" r="16"/></g><g id="n93-870"><circle cx="870" r="16"/></g><g id="n93-970"><circle cx="970" r="16"/></g></g>
<g transform="translate(0,5745.2)"><g id="n94-770"><circle cx="770" r="16"/></g><g id="n94-870"><circle cx="870" r="16"/></g><g id="n94-970"><circle cx="970" r="16"/></g></g>
<g transform="translate(0,5806)"><g id="n95-870"><circle cx="870" r="16"/></g><g id="n95-970"><circle cx="970" r="16"/></g></g>
<g transform="translate(0,5866.8)"><g id="n96-870"><circle cx="870" r="16"/></g><g id="n96-970"><circle cx="970" r="16"/></g></g>
<g transform="translate(0,5927.6)"><g id="n97-822"><circle cx="822" r="16"/></g><g id="n97-922"><circle cx="922" r="16"/></g></g>
<g transform="translate(0,5988.4)"><g id="n98-822"><circle cx="822" r="16"/></g><g id="n98-922"><circle cx="922" r="16"/></g></g>
<g transform="translate(0,6049.2)"><g id="n99-822"><circle cx="822" r="16"/></g><g id="n99-922"><circle cx="922" r="16"/></g><g id="n99-1022"><circle cx="1022" r="16"/></g></g>
<g transform="translate(0,6110)"><g id="n100-822"><circle cx="822" r="16"/></g><g id="n100-922"><circle cx="922" r="16"/></g><g id="n100-1022"><circle cx="1022" r="16"/></g></g>
<g transform="translate(0,6170.8)"><g id="n101-774"><circle cx="774" r="16"/></g><g id="n101-874"><circle cx="874" r="16"/></g></g>
<g transform="translate(0,6231.6)"><g id="n102-774"><circle cx="774" r="16"/></g><g id="n102-874"><circle cx="874" r="16"/></g></g>
<g transform="translate(0,6292.4)"><g id="n103-774"><circle cx="774" r="16"/></g></g>
<g transform="translate(0,6353.2)"><g id="n104-774"><circle cx="774" r="16"/></g></g>
<g transform="translate(0,6414)"><g id="n105-726"><circle cx="726" r="16"/></g><g id="n105-826"><circle cx="826" r="16"/></g></g>
<g transform="translate(0,6474.8)"><g id="n106-726"><circle cx="726" r="16"/></g><g id="n106-826"><circle cx="826" r="16"/></g></g>
<g transform="translate(0,6535.6)"><g id="n107-678"><circle cx="678" r="16"/></g><g id="n107-826"><circle cx="826" r="16"/></g><g id="n107-930"><circle cx="930" r="16"/></g></g>
<g transform="translate(0,6596.4)"><g id="n108-654"><circle cx="654" r="16"/></g><g id="n108-826"><circle cx="826" r="16"/></g><g id="n108-934"><circle cx="934" r="16"/></g></g>
<g transform="translate(0,6657.2)"><g id="n109-642"><circle cx="642" r="16"/></g><g id="n109-742"><circle cx="742" r="16"/></g><g id="n109-842"><circle cx="842" r="16"/></g><g id="n109-966"><circle cx="966" r="16"/></g></g>
<g transform="translate(0,6718)"><g id="n110-642"><circle cx="642" r="16"/></g><g id="n110-742"><circle cx="742" r="16"/></g><g id="n110-842"><circle cx="842" r="16"/></g><g id="n110-990"><circle cx="990" r="16"/></g></g>
<g transform="translate(0,6778.8)"><g id="n111-814"><circle cx="814" r="16"/></g><g id="n111-914"><circle cx="914" r="16"/></g><g id="n111-1014"><circle cx="1014" r="16"/></g><g id="n111-1114"><circle cx="1114" r="16"/></g></g>
<g transform="translate(0,6839.6)"><g id="n112-814"><circle cx="814" r="16"/></g><g id="n112-914"><circle cx="914" r="16"/></g><g id="n112-1014"><circle cx="1014" r="16"/></g><g id="n112-1114"><circle cx="1114" r="16"/></g></g>
<g transform="translate(0,6900.4)"><g id="n113-914"><circle cx="914" r="16"/></g><g id="n113-1114"><circle cx="1114" r="16"/></g><g id="n113-1218"><circle cx="1218" r="16"/></g></g>
<g transform="translate(0,6961.2)"><g id="n114-914"><circle cx="914" r="16"/></g><g id="n114-1114"><circle cx="1114" r="16"/></g><g id="n114-1222"><circle cx="1222" r="16"/></g></g>
<g transform="translate(0,7022)"><g id="n115-914"><circle cx="914" r="16"/></g><g id="n115-1014"><circle cx="1014" r="16"/></g><g id="n115-1114"><circle cx="1114" r="16"/></g><g id="n115-1270"><circle cx="1270" r="16"/></g></g>
<g transform="translate(0,7082.8)"><g id="n116-914"><circle cx="914" r="16"/></g><g id="n116-1014"><circle cx="1014" r="16"/></g><g id="n116-1114"><circle cx="1114" r="16"/></g><g id="n116-1294"><circle cx="1294" r="16"/></g></g>
<g transform="translate(0,7143.6)"><g id="n117-1002"><circle cx="1002" r="16"/></g><g id="n117-1106"><circle cx="1106" r="16"/></g><g id="n117-1206"><circle cx="1206" r="16"/></g><g id="n117-1306"><circle cx="1306" r="16"/></g></g>
<g transform="translate(0,7204.4)"><g id="n118-994"><circle cx="994" r="16"/></g><g id="n118-1106"><circle cx="1106" r="16"/></g><g id="n118-1206"><circle cx="1206" r="16"/></g><g id="n118-1306"><circle cx="1306" r="16"/></g></g>
<g transform="translate(0,7265.2)"><g id="n119-982"><circle cx="982" r="16"/></g><g id="n119-1106"><circle cx="1106" r="16"/></g><g id="n119-1206"><circle cx="1206" r="16"/></g><g id="n119-1306"><circle cx="1306" r="16"/></g></g>
<g transform="translate(0,7326)"><g id="n120-958"><circle cx="958" r="16"/></g><g id="n120-1106"><circle cx="1106" r="16"/></g><g id="n120-1206"><circle cx="1206" r="16"/></g><g id="n120-1306"><circle cx="1306" r="16"/></g></g>
<g transform="translate(0,7386.8)"><g id="n121-910"><circle cx="910" r="16"/></g><g id="n121-1106"><circle cx="1106" r="16"/></g><g id="n121-1206"><circle cx="1206" r="16"/></g><g id="n121-1306"><circle cx="1306" r="16"/></g></g>
<g transform="translate(0,7447.6)"><g id="n122-910"><circle cx="910" r="16"/></g><g id="n122-1106"><circle cx="1106" r="16"/></g><g id="n122-1206"><circle cx="1206" r="16"/></g><g id="n122-1306"><circle cx="1306" r="16"/></g></g>
<g transform="translate(0,7508.4)"><g id="n123-910"><circle cx="910" r="16"/></g><g id="n123-1010"><circle cx="1010" r="16"/></g><g id="n123-1110"><circle cx="1110" r="16"/></g><g id="n123-1210"><circle cx="1210" r="16"/></g></g>
<g transform="translate(0,7569.2)"><g id="n124-910"><circle cx="910" r="16"/></g><g id="n124-1010"><circle cx="1010" r="16"/></g><g id="n124-1110"><circle cx="1110" r="16"/></g><g id="n124-1210"><circle cx="1210" r="16"/></g></g>
<g transform="translate(0,7630)"><g id="n125-910"><circle cx="910" r="16"/></g><g id="n125-1110"><circle cx="1110" r="16"/></g><g id="n125-1210"><circle cx="1210" r="16"/></g></g>
<g transform="translate(0,7690.8)"><g id="n126-910"><circle cx="910" r="16"/></g><g id="n126-1110"><circle cx="1110" r="16"/></g><g id="n126-1210"><circle cx="1210" r="16"/></g></g>
<g transform="translate(0,7751.6)"><g id="n127-1110"><circle cx="1110" r="16"/></g><g id="n127-1210"><circle cx="1210" r="16"/></g></g>
<g transform="translate(0,7812.4)"><g id="n128-1110"><circle cx="1110" r="16"/></g><g id="n128-1210"><circle cx="1210" r="16"/></g></g>
<g transform="translate(0,7873.2)"><g id="n129-1110"><circle cx="1110" r="16"/></g><g id="n129-1210"><circle cx="1210" r="16"/></g><g id="n129-1310"><circle cx="1310" r="16"/></g></g>
<g transform="translate(0,7934)"><g id="n130-1110"><circle cx="1110" r="16"/></g><g id="n130-1210"><circle cx="1210" r="16"/></g><g id="n130-1310"><circle cx="1310" r="16"/></g></g>
<g transform="translate(0,7994.8)"><g id="n131-1110"><circle cx="1110" r="16"/></g><g id="n131-1310"><circle cx="1310" r="16"/></g></g>
<g transform="translate(0,8055.6)"><g id="n132-1110"><circle cx="1110" r="16"/></g><g id="n132-1310"><circle cx="1310" r="16"/></g></g>
<g transform="translate(0,8116.4)"><g id="n133-1010"><circle cx="1010" r="16"/></g><g id="n133-1110"><circle cx="1110" r="16"/></g><g id="n133-1310"><circle cx="1310" r="16"/></g></g>
<g transform="translate(0,8177.2)"><g id="n134-1010"><circle cx="1010" r="16"/></g><g id="n134-1110"><circle cx="1110" r="16"/></g><g id="n134-1310"><circle cx="1310" r="16"/></g></g>
<g transform="translate(0,8238)"><g id="n135-1010"><circle cx="1010" r="16"/></g><g id="n135-1110"><circle cx="1110" r="16"/></g><g id="n135-1210"><circle cx="1210" r="16"/></g><g id="n135-1310"><circle cx="1310" r="16"/></g></g>
<g transform="translate(0,8298.8)"><g id="n136-1010"><circle cx="1010" r="16"/></g><g id="n136-1110"><circle cx="1110" r="16"/></g><g id="n136-1210"><circle cx="1210" r="16"/></g><g id="n136-1310"><circle cx="1310" r="16"/></g></g>
<g transform="translate(0,8359.6)"><g id="n137-1010"><circle cx="1010" r="16"/></g><g id="n137-1110"><circle cx="1110" r="16"/></g></g>
<g transform="translate(0,8420.4)"><g id="n138-1010"><circle cx="1010" r="16"/></g><g id="n138-1110"><circle cx="1110" r="16"/></g></g>
<g transform="translate(0,8481.2)"><g id="n139-962"><circle cx="962" r="16"/></g><g id="n139-1062"><circle cx="1062" r="16"/></g></g>
<g transform="translate(0,8542)"><g id="n140-962"><circle cx="962" r="16"/></g><g id="n140-1062"><circle cx="1062" r="16"/></g></g>
<g transform="translate(0,8602.8)"><g id="n141-914"><circle cx="914" r="16"/></g><g id="n141-1014"><circle cx="1014" r="16"/></g></g>
<g transform="translate(0,8663.6)"><g id="n142-914"><circle cx="914" r="16"/></g><g id="n142-1014"><circle cx="1014" r="16"/></g></g>
<g transform="translate(0,8724.4)"><g id="n143-914"><circle cx="914" r="16"/></g></g>
<g transform="translate(0,8785.2)"><g id="n144-914"><circle cx="914" r="16"/></g></g>
</g>
</g>
</svg>
